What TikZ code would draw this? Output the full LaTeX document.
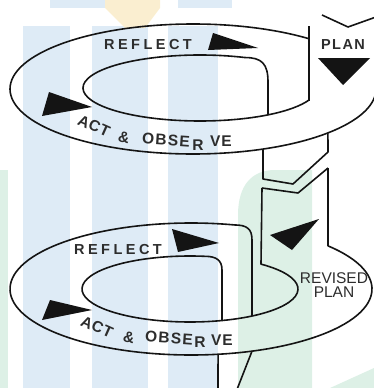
\documentclass[tikz,border=0pt]{standalone}
\usepackage{fontspec}
\setsansfont{Liberation Sans}
\usetikzlibrary{calc}
\definecolor{StripeBlue}{RGB}{222, 235, 246}
\definecolor{StripeGreen}{RGB}{221, 240, 230}
\definecolor{StripeSand}{RGB}{250, 238, 208}
\definecolor{InkBlack}{RGB}{20, 20, 20}
\definecolor{DarkGray}{RGB}{45, 45, 45}

\begin{document}
\begin{tikzpicture}[x=1pt, y=-1pt,
    ribbon/.style={line width=1.6pt, InkBlack, line join=round},
    tip/.style={fill=InkBlack},
    spirallabel/.style={DarkGray, inner sep=0pt,
      font=\sffamily\bfseries\fontsize{14.5}{14.5}\selectfont\addfontfeature{LetterSpace=#1}},
    actlabel/.style={DarkGray, inner sep=0pt,
      font=\sffamily\bfseries\fontsize{15.5}{15.5}\selectfont\addfontfeature{LetterSpace=#1}}]
    \useasboundingbox (0,0) rectangle (374,388);
    \clip (0,0) rectangle (374,388);

    % Background stripes
    \fill[StripeBlue] (23,26) rectangle (70,388);
    \fill[StripeBlue] (92,26) rectangle (148,388);
    \fill[StripeBlue] (168,26) rectangle (218,388);
    \fill[StripeBlue] (50,0) rectangle (105,8);
    \fill[StripeBlue] (178,0) rectangle (232,8);
    \fill[StripeSand] (105,0) -- (160,0) -- (160,8) -- (145,28) -- (125,28) -- (105,8) -- cycle;
    \fill[StripeGreen] (238,388) -- (238,215) .. controls (238,185) and (252,170) .. (275,170) -- (312,170) -- (312,388) -- cycle;
    \fill[StripeGreen] (330,388) -- (374,368) -- (374,388) -- cycle;
    \fill[StripeGreen] (0,170) rectangle (8,388);

    % Upper cycle
    \coordinate (upout) at (193,89);
    \coordinate (upin) at (200,88);
    \draw[ribbon] (322,15) -- (348,27) -- (376,17);
    \draw[ribbon] (309,26) -- (309,100.5);
    \draw[ribbon] ($(upout)+(-50.7:183 and 65)$) arc[start angle=-50.7, end angle=-360, x radius=183, y radius=65];
    \draw[ribbon] (268,115) -- (268,82) .. controls (268,64) and (262,57.5) .. ($(upin)+(-67.4:117 and 33)$)
                  arc[start angle=-67.4, end angle=-338.7, x radius=117, y radius=33];
    \draw[ribbon] ($(upout)+(67.5:183 and 65)$) -- (263,179) -- (293,184) -- (328,152) -- ($(upout)+(42.5:183 and 65)$);

    \fill[tip] (213,33) -- (208,50) -- (258,48) -- cycle;
    \fill[tip] (318,58) -- (370,58) -- (343,85) -- cycle;
    \fill[tip] (49,92) -- (42,116) -- (92,107) -- cycle;

    \node[spirallabel=24] (reflect1) at (148,45) {REFLECT};
    \node[spirallabel=10] (plan1) at (343,45) {PLAN};
    \node[actlabel=4, rotate=-24] (act1) at (94,126) {ACT};
    \node[actlabel=0, rotate=-12] (and1) at (124,137) {\&};
    \node[actlabel=8, rotate=-4] (obse1) at (166,140) {OBSE};
    \node[actlabel=0] (r1) at (198,145) {R};
    \node[actlabel=6] (ve1) at (221,141) {VE};

    % Revised plan and lower cycle
    \coordinate (loout) at (191,289);
    \coordinate (loin) at (190,289);
    \draw[ribbon] (328,168) -- ($(loout)+(-40.8:181 and 66)$)
                  arc[start angle=-40.8, end angle=284, x radius=181, y radius=66]
                  .. controls (247,225) and (252,229) .. (252,240) -- (252,316);
    \draw[ribbon] (262,188) -- (298,193) -- (328,168);
    \draw[ribbon] (262,188) -- ($(loin)+(-48.9:108 and 33)$)
                  arc[start angle=-48.9, end angle=278, x radius=108, y radius=33]
                  .. controls (216,256.3) and (222,260) .. (222,270) -- (222,320.5);
    \draw[ribbon] ($(loout)+(81.4:181 and 66)$) -- (218,392);
    \draw[ribbon] ($(loout)+(70.3:181 and 66)$) -- (236,392);

    \fill[tip] (172,229) -- (178,252) -- (219,243) -- cycle;
    \fill[tip] (270,235) -- (319,219) -- (292,250) -- cycle;
    \fill[tip] (50,300) -- (42,320) -- (92,310) -- cycle;

    \node[spirallabel=24] (reflect2) at (118,250) {REFLECT};
    \node[DarkGray, inner sep=0pt, align=center, font=\sffamily\fontsize{15.5}{13.5}\selectfont] (revised) at (334,285) {REVISED\\PLAN};
    \node[actlabel=4, rotate=-24] (act2) at (97,327) {ACT};
    \node[actlabel=0, rotate=-12] (and2) at (129,337) {\&};
    \node[actlabel=8, rotate=-4] (obse2) at (169,338) {OBSE};
    \node[actlabel=0] (r2) at (200,342) {R};
    \node[actlabel=6] (ve2) at (222,340) {VE};
\end{tikzpicture}
\end{document}
